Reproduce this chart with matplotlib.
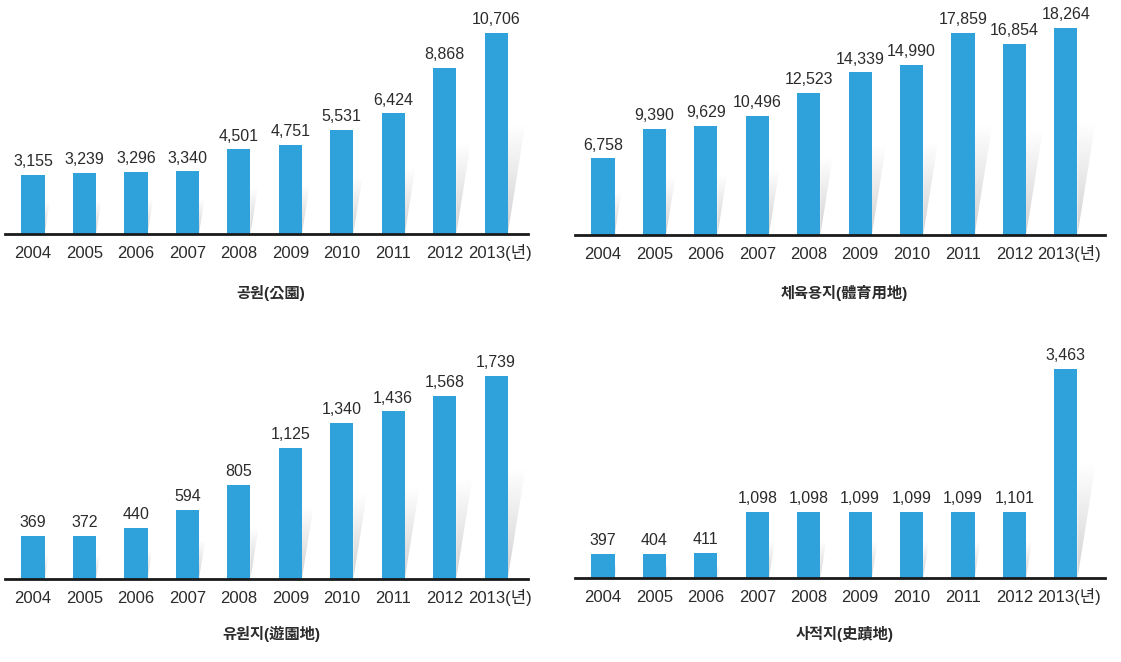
import numpy as np
import matplotlib
matplotlib.use('Agg')
import matplotlib.pyplot as plt
from matplotlib.patches import Polygon

plt.rcParams['font.family'] = ['Liberation Sans', 'Noto Sans CJK KR', 'DejaVu Sans']

years = ['2004', '2005', '2006', '2007', '2008', '2009', '2010', '2011', '2012', '2013(년)']

park = [3155, 3239, 3296, 3340, 4501, 4751, 5531, 6424, 8868, 10706]
sports = [6758, 9390, 9629, 10496, 12523, 14339, 14990, 17859, 16854, 18264]
amusement = [369, 372, 440, 594, 805, 1125, 1340, 1436, 1568, 1739]
historic = [397, 404, 411, 1098, 1098, 1099, 1099, 1099, 1101, 3463]

titles = ['공원(公園)', '체육용지(體育用地)', '유원지(遊園地)', '사적지(史蹟地)']
series = [park, sports, amusement, historic]

W, H = 1121, 662
bar_color = '#2fa2db'
text_color = '#2b2b2b'

# panel layout in pixels: left, right, baseline y, top y, tallest bar px, xlim right, title y
layout = [
    (5, 528, 234, 5, 201, 9.62, 293),
    (575, 1105, 235, 5, 207, 9.76, 293),
    (5, 528, 579, 349, 203, 9.62, 634),
    (575, 1105, 578, 348, 209, 9.76, 634),
]

fig = plt.figure(figsize=(W / 100, H / 100), dpi=100)

# vertical gray gradient, darker at the bottom
gray_img = np.zeros((64, 1, 4))
gray_img[..., 0] = 0.6
gray_img[..., 1] = 0.6
gray_img[..., 2] = 0.62
gray_img[..., 3] = np.linspace(0.0, 0.45, 64).reshape(-1, 1)

for vals, title, (x0, x1, yb, yt, bar_px, xr, ty) in zip(series, titles, layout):
    ax_h = yb - yt
    ax = fig.add_axes([x0 / W, (H - yb) / H, (x1 - x0) / W, ax_h / H])
    ymax = max(vals) * ax_h / bar_px
    x = np.arange(len(vals))
    bw = 0.45
    ax.bar(x, vals, width=bw, color=bar_color, zorder=3)

    # soft shadow to the right of each bar
    px_per_x = (x1 - x0) / (xr + 0.545)
    for xi, v in zip(x, vals):
        h = 0.55 * v
        h_px = h / ymax * ax_h
        dx = 0.16 * h_px / px_per_x
        r = xi + bw / 2
        poly = Polygon([(r, 0), (r + dx, h), (r, h)], closed=True,
                       facecolor='none', edgecolor='none')
        ax.add_patch(poly)
        im = ax.imshow(gray_img, extent=(r, r + dx, 0, h), origin='upper',
                       aspect='auto', zorder=2, interpolation='bilinear')
        im.set_clip_path(poly)

    for xi, v in zip(x, vals):
        ax.text(xi, v + ymax * 0.025, f'{v:,}', ha='center', va='bottom',
                fontsize=11.5, color=text_color, zorder=4)

    ax.set_xlim(-0.545, xr)
    ax.set_ylim(0, ymax)
    ax.set_xticks(x)
    # last label is drawn by hand, a little right of its bar
    ax.set_xticklabels(years[:-1] + [''], fontsize=12, color=text_color)
    for lbl in ax.get_xticklabels():
        lbl.set_va('baseline')
    ax.tick_params(axis='x', length=0, pad=17.5)
    ax.annotate(years[-1], xy=(x[-1], 0), xycoords=('data', 'axes fraction'),
                xytext=(2.5, -17), textcoords='offset points', ha='center',
                va='baseline', fontsize=12, color=text_color, annotation_clip=False)
    ax.set_yticks([])
    for s in ['top', 'left', 'right']:
        ax.spines[s].set_visible(False)
    ax.spines['bottom'].set_linewidth(2)
    ax.spines['bottom'].set_color('#1a1a1a')
    ax.spines['bottom'].set_zorder(5)
    ax.patch.set_alpha(0)

    fig.text((x0 + x1) / 2 / W + 0.004, 1 - ty / H, title, ha='center', va='center',
             fontsize=11, fontweight='bold', color=text_color)

fig.savefig('out.png', dpi=100)
